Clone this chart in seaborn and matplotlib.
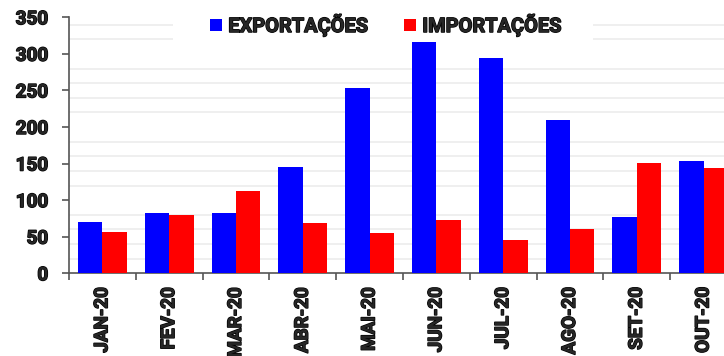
import matplotlib
matplotlib.use("Agg")
import matplotlib.pyplot as plt
import matplotlib.patheffects as pe
from matplotlib.patches import Rectangle
import seaborn as sns
import pandas as pd
import numpy as np

months = ["JAN-20", "FEV-20", "MAR-20", "ABR-20", "MAI-20", "JUN-20", "JUL-20", "AGO-20", "SET-20", "OUT-20"]
exportacoes = [70, 83, 83, 145, 253, 316, 295, 210, 77, 153]
importacoes = [57, 80, 112, 69, 55, 73, 46, 60, 151, 144]
series_names = ["EXPORTAÇÕES", "IMPORTAÇÕES"]
colors = ["#0000ff", "#ff0000"]

df = pd.DataFrame({
    "mes": months * 2,
    "valor": exportacoes + importacoes,
    "serie": [series_names[0]] * len(months) + [series_names[1]] * len(months),
})

sns.set_theme(style="white")
plt.rcParams["font.family"] = ["Roboto", "DejaVu Sans"]

stroke = [pe.withStroke(linewidth=1.0, foreground="black")]

fig = plt.figure(figsize=(7.24, 3.56), dpi=100)
ax = fig.add_axes([69/724, (356-273.3)/356, (737-69)/724, (273.3-17.3)/356])

sns.barplot(data=df, x="mes", y="valor", hue="serie", order=months,
            hue_order=series_names, palette=colors, width=0.73,
            linewidth=0, saturation=1, ax=ax, zorder=3)

ax.set_ylim(0, 350)
ax.set_xlim(-0.5, len(months) - 0.5)
ax.set_yticks(np.arange(0, 351, 50))
ax.set_yticks(np.arange(0, 351, 20), minor=True)
ax.yaxis.grid(True, which="minor", color="#eeeeee", linewidth=1.3, zorder=0)
ax.yaxis.grid(False, which="major")
ax.set_axisbelow(True)
ax.set_xlabel("")
ax.set_ylabel("")

ax.set_xticks(np.arange(len(months)))
ax.set_xticklabels(months, rotation=90)
ax.set_xticks(np.arange(len(months) + 1) - 0.5, minor=True)
ax.tick_params(axis="x", which="major", length=0, pad=10)
ax.tick_params(axis="x", which="minor", length=5, width=1.2, color="#555555", bottom=True)
ax.tick_params(axis="y", which="major", length=5, width=1.2, color="#555555", left=True, pad=10)
ax.tick_params(axis="y", which="minor", length=0)
for lbl in ax.get_yticklabels() + ax.get_xticklabels():
    lbl.set_fontsize(13.6)
    lbl.set_fontweight("bold")
    lbl.set_path_effects(stroke)

for s in ["top", "right"]:
    ax.spines[s].set_visible(False)
for s in ["left", "bottom"]:
    ax.spines[s].set_color("#555555")
    ax.spines[s].set_linewidth(1.2)

# white band behind the legend, as in the reference
bg = Rectangle((173/724, (356-41)/356), (593-173)/724, 41/356, transform=fig.transFigure,
               facecolor="white", edgecolor="none", zorder=2)
ax.add_patch(bg)

handles, labels = ax.get_legend_handles_labels()
leg = ax.legend(handles, labels, loc="center", bbox_to_anchor=(386/724, (356-24.5)/356),
                bbox_transform=fig.transFigure, ncol=2, frameon=False,
                handlelength=0.6, handleheight=0.6, handletextpad=0.3, columnspacing=1.8,
                prop={"family": ["Roboto", "DejaVu Sans"], "weight": "bold", "size": 14.4},
                borderpad=0.3)
for t in leg.get_texts():
    t.set_path_effects(stroke)

fig.savefig("out.png", dpi=100)
